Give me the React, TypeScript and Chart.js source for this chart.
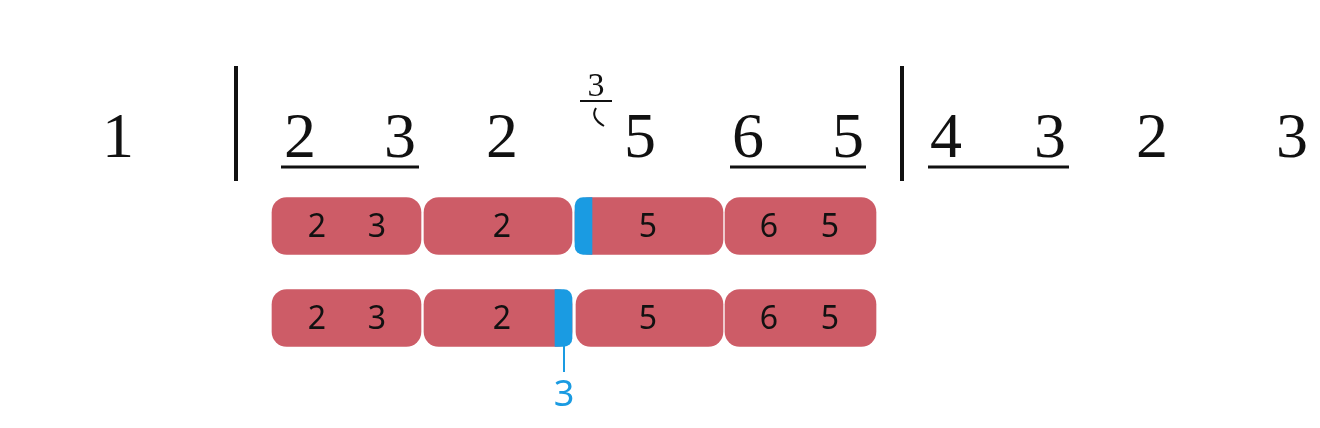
import React, { useEffect, useRef } from 'react'
import { Chart, registerables } from 'chart.js'

Chart.register(...registerables)

const RED = '#cd5c67'
const BLUE = '#1a9be2'

// score line: notes [x, digit]
const scoreNotes: [number, string][] = [
  [118, '1'], [300, '2'], [400, '3'], [502, '2'], [640, '5'],
  [748, '6'], [848, '5'], [946, '4'], [1050, '3'], [1152, '2'], [1292, '3'],
]
const barLines = [236, 902]
const underlines: [number, number][] = [[281, 419], [730, 866], [928, 1069]]
const graceNote: [number, string] = [596, '3']

// timeline rows (y value = row centre)
const rowY = [226, 318]
const redBars1: [number, number][] = [[272, 421], [424, 572], [575, 723], [725, 876]]
const redBars2: [number, number][] = [[272, 421], [424, 572], [576, 723], [725, 876]]
const blueBar1: [number, number] = [575, 592]
const blueBar2: [number, number] = [555, 572]
const rowLabels: [number, string][] = [
  [317, '2'], [377, '3'], [502, '2'], [648, '5'], [769, '6'], [830, '5'],
]
const row2Labels: [number, string][] = [
  [317, '2'], [377, '3'], [502, '2'], [648, '5'], [769, '6'], [830, '5'],
]
const graceMarker: [number, string] = [564, '3']

const notation = {
  id: 'notation',
  afterDatasetsDraw(chart: Chart) {
    const { ctx } = chart
    const x = chart.scales.x
    const y = chart.scales.y
    ctx.save()
    ctx.fillStyle = '#111'
    ctx.strokeStyle = '#111'
    ctx.textAlign = 'center'
    ctx.textBaseline = 'alphabetic'
    ctx.font = '64px "Liberation Serif", "DejaVu Serif", serif'
    scoreNotes.forEach(([v, t]) => ctx.fillText(t, x.getPixelForValue(v), y.getPixelForValue(157)))
    ctx.lineWidth = 4
    barLines.forEach((v) => {
      ctx.beginPath()
      ctx.moveTo(x.getPixelForValue(v), y.getPixelForValue(66))
      ctx.lineTo(x.getPixelForValue(v), y.getPixelForValue(181))
      ctx.stroke()
    })
    ctx.lineWidth = 3
    underlines.forEach(([a, b]) => {
      ctx.beginPath()
      ctx.moveTo(x.getPixelForValue(a), y.getPixelForValue(167))
      ctx.lineTo(x.getPixelForValue(b), y.getPixelForValue(167))
      ctx.stroke()
    })
    // grace note
    const gx = x.getPixelForValue(graceNote[0])
    ctx.font = '34px "Liberation Serif", serif'
    ctx.fillText(graceNote[1], gx, y.getPixelForValue(96))
    ctx.lineWidth = 2
    ctx.beginPath()
    ctx.moveTo(gx - 16, y.getPixelForValue(101))
    ctx.lineTo(gx + 16, y.getPixelForValue(101))
    ctx.stroke()
    ctx.beginPath()
    ctx.moveTo(gx, y.getPixelForValue(108))
    ctx.quadraticCurveTo(gx - 6, y.getPixelForValue(118), gx + 8, y.getPixelForValue(126))
    ctx.stroke()

    // bar labels
    ctx.font = '32px "Noto Sans", "Open Sans", sans-serif'
    ctx.textBaseline = 'middle'
    rowLabels.forEach(([v, t]) => ctx.fillText(t, x.getPixelForValue(v), y.getPixelForValue(rowY[0] + 2)))
    row2Labels.forEach(([v, t]) => ctx.fillText(t, x.getPixelForValue(v), y.getPixelForValue(rowY[1] + 2)))

    // grace marker
    const mx = x.getPixelForValue(graceMarker[0])
    ctx.strokeStyle = BLUE
    ctx.fillStyle = BLUE
    ctx.lineWidth = 2
    ctx.beginPath()
    ctx.moveTo(mx, y.getPixelForValue(346))
    ctx.lineTo(mx, y.getPixelForValue(372))
    ctx.stroke()
    ctx.font = '36px "Noto Sans", sans-serif'
    ctx.fillText(graceMarker[1], mx, y.getPixelForValue(396))
    ctx.restore()
  },
}

const r = 15

export default function App() {
  const canvasRef = useRef<HTMLCanvasElement>(null)

  useEffect(() => {
    if (!canvasRef.current) return
    const chart = new Chart(canvasRef.current, {
      type: 'bar',
      data: {
        datasets: [
          {
            data: [
              ...redBars1.map((b) => ({ x: b, y: rowY[0] })),
              ...redBars2.map((b) => ({ x: b, y: rowY[1] })),
            ] as any,
            backgroundColor: RED,
            borderRadius: r,
            borderSkipped: false,
            barThickness: 57,
            grouped: false,
            order: 2,
          },
          {
            data: [{ x: blueBar1, y: rowY[0] }] as any,
            backgroundColor: BLUE,
            borderRadius: { topLeft: r, bottomLeft: r, topRight: 0, bottomRight: 0 },
            borderSkipped: false,
            barThickness: 57,
            grouped: false,
            order: 1,
          },
          {
            data: [{ x: blueBar2, y: rowY[1] }] as any,
            backgroundColor: BLUE,
            borderRadius: { topLeft: 0, bottomLeft: 0, topRight: r, bottomRight: r },
            borderSkipped: false,
            barThickness: 57,
            grouped: false,
            order: 1,
          },
        ],
      },
      options: {
        indexAxis: 'y',
        animation: false,
        responsive: false,
        layout: { padding: 0 },
        plugins: { legend: { display: false }, tooltip: { enabled: false } },
        scales: {
          x: { type: 'linear', min: 0, max: 1320, display: false, offset: false },
          y: { type: 'linear', min: 0, max: 428, reverse: true, display: false, offset: false },
        },
      },
      plugins: [notation],
    })
    return () => chart.destroy()
  }, [])

  return (
    <div style={{ position: 'fixed', left: 0, top: 0, width: 1320, height: 428, background: '#fff' }}>
      <canvas ref={canvasRef} width={1320} height={428} />
    </div>
  )
}
